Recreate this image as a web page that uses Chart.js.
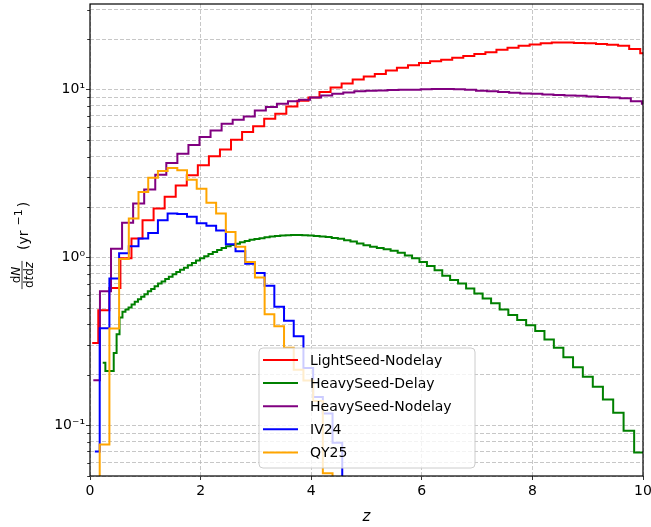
<!DOCTYPE html>
<html>
<head>
<meta charset="utf-8">
<script src="https://cdn.jsdelivr.net/npm/chart.js@4.4.0/dist/chart.umd.min.js"></script>
<style>
  html, body { margin: 0; padding: 0; background: #fff; }
</style>
</head>
<body>
<canvas id="chart" width="651" height="527"></canvas>
<script>
// --- axes ---
const X_MIN = 0, X_MAX = 10;
const Y_MIN = 0.05, Y_MAX = 32.4;
const xTicks = [0, 2, 4, 6, 8, 10];
const yTicks = [0.05, 0.06, 0.07, 0.08, 0.09,
                0.1, 0.2, 0.3, 0.4, 0.5, 0.6, 0.7, 0.8, 0.9,
                1, 2, 3, 4, 5, 6, 7, 8, 9,
                10, 20, 30];
const yMajor = [0.1, 1, 10];
const yMajorLabels = ['10⁻¹', '10⁰', '10¹'];

const seriesNames = ['LightSeed-Nodelay', 'HeavySeed-Delay', 'HeavySeed-Nodelay', 'IV24', 'QY25'];
const seriesColors = ['#ff0000', '#008000', '#800080', '#0000ff', '#ffa500'];

// LightSeed-Nodelay : first half bin from 0.04, then 0.2 wide bins starting at 0.15
const lightStart = 0.04, lightFirstEdge = 0.15, lightWidth = 0.2;
const lightVals = [0.31,
  0.485, 0.66, 0.99, 1.30, 1.67, 1.96, 2.30, 2.69, 3.09, 3.55,
  4.01, 4.41, 5.04, 5.59, 6.05, 6.72, 7.2, 7.95, 8.6, 9.0,
  9.7, 10.3, 10.9, 11.5, 12.0, 12.4, 13.0, 13.5, 14.0, 14.4,
  14.8, 15.1, 15.5, 15.9, 16.3, 16.7, 17.3, 17.8, 18.3, 18.6,
  18.9, 19.1, 19.1, 19.0, 18.9, 18.7, 18.5, 18.3, 17.5, 16.5];

// HeavySeed-Nodelay : same kind of binning
const heavyStart = 0.06, heavyFirstEdge = 0.18, heavyWidth = 0.2;
const heavyVals = [0.186,
  0.63, 1.13, 1.61, 2.10, 2.54, 3.12, 3.66, 4.16, 4.69, 5.22,
  5.72, 6.28, 6.63, 6.93, 7.53, 7.88, 8.25, 8.55, 8.7, 9.0,
  9.25, 9.46, 9.64, 9.78, 9.86, 9.9, 9.95, 10.0, 10.0, 10.05,
  10.1, 10.1, 10.05, 10.0, 9.85, 9.8, 9.7, 9.6, 9.5, 9.45,
  9.35, 9.3, 9.25, 9.2, 9.1, 9.05, 9.0, 8.9, 8.55, 8.25];

// IV24 / QY25 : 57 bins over [0,10], first point at the first bin centre
const obsStart = 5 / 57, obsFirstEdge = 10 / 57, obsWidth = 10 / 57;
const iv24Vals = [0.07, 0.38, 0.75, 1.06, 1.17, 1.30, 1.40, 1.67, 1.83, 1.82,
  1.75, 1.6, 1.55, 1.45, 1.2, 1.09, 0.92, 0.81, 0.68, 0.51,
  0.42, 0.34, 0.22, 0.148, 0.118, 0.079, 0.01];
const qy25Vals = [0.01, 0.077, 0.378, 0.98, 1.71, 2.46, 2.99, 3.28, 3.42, 3.31,
  2.91, 2.57, 2.12, 1.83, 1.42, 1.16, 0.94, 0.76, 0.46, 0.39,
  0.29, 0.215, 0.185, 0.14, 0.052, 0.01];

// HeavySeed-Delay : narrow bins at low z, widening towards z = 10
const delayEdges = [0.230, 0.278, 0.328, 0.378, 0.429, 0.481, 0.534, 0.587, 0.641, 0.697,
  0.752, 0.809, 0.867, 0.925, 0.984, 1.045, 1.106, 1.168, 1.231, 1.295,
  1.360, 1.426, 1.493, 1.560, 1.629, 1.699, 1.770, 1.843, 1.916, 1.990,
  2.065, 2.142, 2.220, 2.299, 2.379, 2.460, 2.543, 2.626, 2.711, 2.798,
  2.885, 2.974, 3.065, 3.156, 3.249, 3.344, 3.440, 3.537, 3.636, 3.736,
  3.838, 3.941, 4.046, 4.153, 4.261, 4.371, 4.482, 4.595, 4.710, 4.826,
  4.945, 5.065, 5.187, 5.310, 5.436, 5.564, 5.693, 5.824, 5.958, 6.093,
  6.231, 6.370, 6.512, 6.656, 6.801, 6.950, 7.100, 7.253, 7.408, 7.565,
  7.725, 7.887, 8.051, 8.218, 8.388, 8.560, 8.735, 8.912, 9.092, 9.275,
  9.461, 9.649, 9.840];
const delayVals = [0.236, 0.211, 0.211, 0.211, 0.27, 0.35, 0.44, 0.475, 0.49, 0.505,
  0.525, 0.545, 0.565, 0.585, 0.605, 0.63, 0.65, 0.675, 0.70, 0.72,
  0.745, 0.77, 0.795, 0.82, 0.845, 0.87, 0.90, 0.93, 0.96, 0.99,
  1.02, 1.05, 1.08, 1.11, 1.14, 1.17, 1.19, 1.21, 1.235, 1.255,
  1.275, 1.29, 1.305, 1.32, 1.335, 1.345, 1.355, 1.36, 1.365, 1.365,
  1.36, 1.355, 1.345, 1.335, 1.325, 1.31, 1.295, 1.27, 1.245, 1.215,
  1.185, 1.16, 1.14, 1.12, 1.10, 1.07, 1.03, 0.99, 0.94, 0.89,
  0.84, 0.78, 0.735, 0.70, 0.655, 0.61, 0.57, 0.535, 0.49, 0.455,
  0.425, 0.395, 0.365, 0.325, 0.29, 0.255, 0.222, 0.195, 0.17, 0.143,
  0.119, 0.093, 0.069];

// step points: value held from its left edge to the next one
function uniformSteps(start, firstEdge, width, vals) {
  const pts = [{ x: start, y: vals[0] }];
  for (let i = 1; i < vals.length; i++) pts.push({ x: firstEdge + (i - 1) * width, y: vals[i] });
  pts.push({ x: firstEdge + (vals.length - 1) * width, y: vals[vals.length - 1] });
  return pts;
}
function listSteps(edges, vals, end) {
  const pts = edges.map((e, i) => ({ x: e, y: vals[i] }));
  pts.push({ x: end, y: vals[vals.length - 1] });
  return pts;
}

const seriesPoints = [
  uniformSteps(lightStart, lightFirstEdge, lightWidth, lightVals),
  listSteps(delayEdges, delayVals, 10.2),
  uniformSteps(heavyStart, heavyFirstEdge, heavyWidth, heavyVals),
  uniformSteps(obsStart, obsFirstEdge, obsWidth, iv24Vals),
  uniformSteps(obsStart, obsFirstEdge, obsWidth, qy25Vals)
];

const FONT = '"DejaVu Sans", "Liberation Sans", sans-serif';

// legend box, minor ticks, frame and axis titles (matplotlib look)
const decorations = {
  id: 'decorations',
  afterDatasetsDraw(chart) {
    const ctx = chart.ctx;
    // legend
    const bx = 259, by = 348, bw = 216, bh = 120, r = 4;
    ctx.save();
    ctx.beginPath();
    ctx.moveTo(bx + r, by);
    ctx.arcTo(bx + bw, by, bx + bw, by + bh, r);
    ctx.arcTo(bx + bw, by + bh, bx, by + bh, r);
    ctx.arcTo(bx, by + bh, bx, by, r);
    ctx.arcTo(bx, by, bx + bw, by, r);
    ctx.closePath();
    ctx.fillStyle = 'rgba(255,255,255,0.8)';
    ctx.fill();
    ctx.strokeStyle = '#cccccc';
    ctx.lineWidth = 1;
    ctx.stroke();
    ctx.font = '14px ' + FONT;
    ctx.textBaseline = 'middle';
    ctx.textAlign = 'left';
    chart.data.datasets.forEach((ds, i) => {
      const yy = 360 + i * 23.1;
      ctx.strokeStyle = ds.borderColor;
      ctx.lineWidth = 2;
      ctx.beginPath();
      ctx.moveTo(263, yy);
      ctx.lineTo(298, yy);
      ctx.stroke();
      ctx.fillStyle = '#000';
      ctx.fillText(ds.label, 310, yy + 1);
    });
    ctx.restore();
  },
  afterDraw(chart) {
    const ctx = chart.ctx;
    const a = chart.chartArea;
    const ys = chart.scales.y;
    ctx.save();
    // minor y ticks
    ctx.strokeStyle = '#000';
    ctx.lineWidth = 0.8;
    yTicks.forEach(v => {
      if (yMajor.includes(v)) return;
      const py = Math.round(ys.getPixelForValue(v)) + 0.5;
      ctx.beginPath();
      ctx.moveTo(a.left - 2.8, py);
      ctx.lineTo(a.left, py);
      ctx.stroke();
    });
    // frame
    ctx.lineWidth = 1.2;
    ctx.strokeRect(a.left, a.top, a.right - a.left, a.bottom - a.top);
    // x title
    ctx.fillStyle = '#000';
    ctx.font = 'italic 15px ' + FONT;
    ctx.textAlign = 'center';
    ctx.textBaseline = 'alphabetic';
    ctx.fillText('z', (a.left + a.right) / 2, 521);
    // y title, rotated
    ctx.translate(0, (a.top + a.bottom) / 2);
    ctx.rotate(-Math.PI / 2);
    const piece = (parts, size, uCenter, v) => {
      let w = 0;
      parts.forEach(p => { ctx.font = (p[1] ? 'italic ' : '') + size + 'px ' + FONT; w += ctx.measureText(p[0]).width; });
      let u = uCenter - w / 2;
      ctx.textAlign = 'left';
      parts.forEach(p => {
        ctx.font = (p[1] ? 'italic ' : '') + size + 'px ' + FONT;
        ctx.fillText(p[0], u, v);
        u += ctx.measureText(p[0]).width;
      });
      return w;
    };
    piece([['d', false], ['N', true]], 12, -35, 19.5);
    const w = piece([['d', false], ['t', true], ['d', false], ['z', true]], 12, -35, 33);
    ctx.lineWidth = 0.8;
    ctx.beginPath();
    ctx.moveTo(-35 - w / 2 - 1, 22);
    ctx.lineTo(-35 + w / 2 + 1, 22);
    ctx.stroke();
    ctx.font = '14px ' + FONT;
    ctx.fillText('(yr', -10, 28);
    let u = -10 + ctx.measureText('(yr').width + 5;
    ctx.font = '11px ' + FONT;
    ctx.fillText('−1', u, 22);
    u += ctx.measureText('−1').width + 2;
    ctx.font = '14px ' + FONT;
    ctx.fillText(')', u, 28);
    ctx.restore();
  }
};

const datasets = seriesNames.map((name, i) => ({
  label: name,
  data: seriesPoints[i],
  borderColor: seriesColors[i],
  borderWidth: 2,
  pointRadius: 0,
  fill: false,
  stepped: 'before',
  clip: 0,
  order: seriesNames.length - i
}));

new Chart(document.getElementById('chart'), {
  type: 'line',
  data: { datasets },
  options: {
    responsive: false,
    animation: false,
    layout: { padding: { left: 0, right: 8, top: 4, bottom: 0 } },
    plugins: { legend: { display: false }, tooltip: { enabled: false } },
    scales: {
      x: {
        type: 'linear', min: X_MIN, max: X_MAX,
        afterBuildTicks: s => { s.ticks = xTicks.map(v => ({ value: v })); },
        afterFit: s => { s.height = 51; s.paddingLeft = 0; s.paddingRight = 0; },
        ticks: { color: '#000', font: { family: FONT, size: 14 }, padding: 3, maxRotation: 0, autoSkip: false },
        grid: { color: '#b9b9b9', lineWidth: 0.8, tickLength: 4, tickColor: '#000', tickWidth: 0.8 },
        border: { display: false, dash: [4, 2] }
      },
      y: {
        type: 'logarithmic', min: Y_MIN, max: Y_MAX,
        afterBuildTicks: s => { s.ticks = yTicks.map(v => ({ value: v })); },
        afterFit: s => { s.width = 90; s.paddingTop = 0; s.paddingBottom = 0; },
        ticks: {
          color: '#000', font: { family: FONT, size: 14 }, padding: 1, autoSkip: false,
          callback: v => { const k = yMajor.indexOf(v); return k >= 0 ? yMajorLabels[k] : ''; }
        },
        grid: {
          color: '#b9b9b9', lineWidth: 0.8, tickLength: 4, tickWidth: 0.8,
          tickColor: c => (c.tick && yMajor.includes(c.tick.value)) ? '#000' : 'rgba(0,0,0,0)'
        },
        border: { display: false, dash: [4, 2] }
      }
    }
  },
  plugins: [decorations]
});
</script>
</body>
</html>
